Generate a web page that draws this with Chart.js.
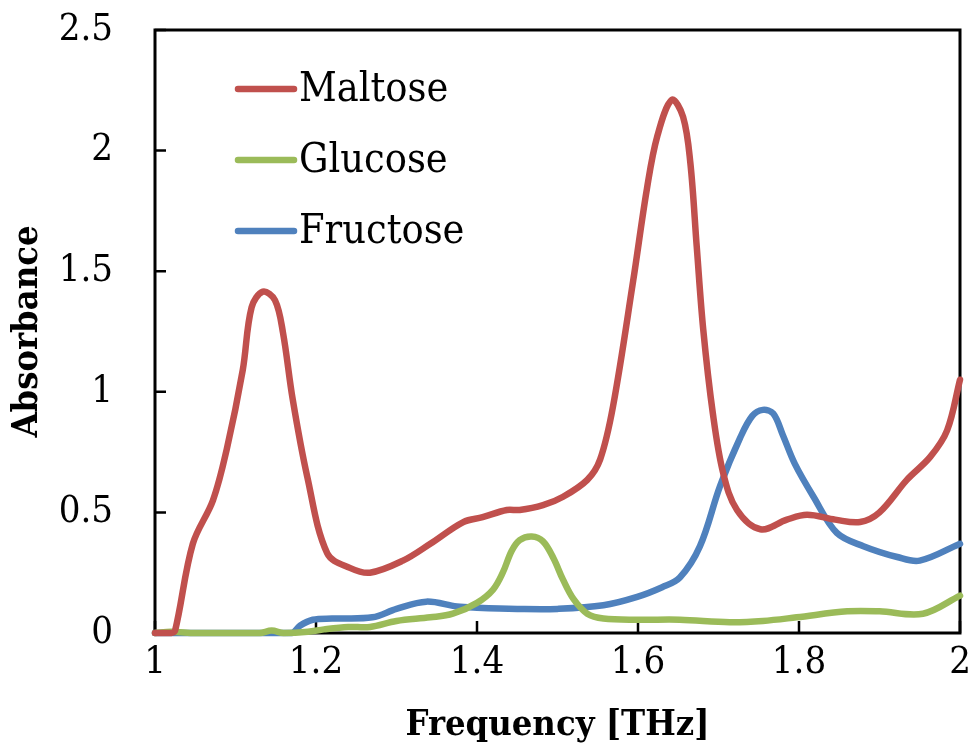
<!DOCTYPE html>
<html>
<head>
<meta charset="utf-8">
<script src="https://cdn.jsdelivr.net/npm/chart.js@4"></script>
<style>
  html, body { margin: 0; padding: 0; background: #fff; }
  #wrap { width: 975px; height: 753px; }
</style>
</head>
<body>
<div id="wrap"><canvas id="ctx"></canvas></div>
<script>
const FONT = "'DejaVu Serif Condensed', 'DejaVu Serif', serif";

const seriesNames = ["Maltose", "Glucose", "Fructose"];
const seriesColors = ["#C0504D", "#9BBB59", "#4F81BD"];

// (THz, absorbance)
const maltoseFreq = [1.00, 1.02, 1.025, 1.047, 1.072, 1.089, 1.109, 1.12, 1.134, 1.149, 1.159, 1.171, 1.189, 1.214, 1.242, 1.267, 1.308, 1.342, 1.383, 1.407, 1.437, 1.453, 1.482, 1.507, 1.537, 1.553, 1.569, 1.594, 1.611, 1.624, 1.642, 1.656, 1.665, 1.673, 1.681, 1.693, 1.706, 1.723, 1.752, 1.785, 1.81, 1.845, 1.876, 1.90, 1.934, 1.963, 1.984, 2.0];
const maltoseAbs = [0, 0, 0.01, 0.37, 0.55, 0.76, 1.09, 1.35, 1.415, 1.38, 1.245, 0.97, 0.65, 0.33, 0.27, 0.25, 0.30, 0.37, 0.46, 0.48, 0.51, 0.51, 0.53, 0.565, 0.635, 0.72, 0.94, 1.46, 1.84, 2.06, 2.21, 2.14, 1.95, 1.60, 1.26, 0.91, 0.66, 0.51, 0.43, 0.47, 0.49, 0.47, 0.46, 0.50, 0.635, 0.73, 0.84, 1.05];

const glucoseFreq = [1.0, 1.02, 1.05, 1.1, 1.13, 1.145, 1.16, 1.19, 1.21, 1.24, 1.267, 1.30, 1.342, 1.37, 1.40, 1.42, 1.432, 1.443, 1.453, 1.468, 1.482, 1.495, 1.507, 1.52, 1.537, 1.557, 1.60, 1.652, 1.714, 1.755, 1.797, 1.86, 1.90, 1.954, 2.0];
const glucoseAbs = [0, 0.005, 0, 0, 0, 0.01, 0, 0.005, 0.015, 0.025, 0.025, 0.05, 0.065, 0.08, 0.125, 0.18, 0.25, 0.34, 0.385, 0.40, 0.38, 0.31, 0.22, 0.14, 0.08, 0.06, 0.055, 0.055, 0.045, 0.05, 0.065, 0.09, 0.09, 0.08, 0.155];

const fructoseFreq = [1.0, 1.1, 1.17, 1.18, 1.196, 1.22, 1.27, 1.30, 1.337, 1.375, 1.40, 1.45, 1.50, 1.557, 1.599, 1.63, 1.652, 1.677, 1.702, 1.727, 1.742, 1.755, 1.768, 1.78, 1.795, 1.818, 1.847, 1.88, 1.922, 1.95, 2.0];
const fructoseAbs = [0, 0, 0, 0.03, 0.055, 0.06, 0.065, 0.10, 0.13, 0.11, 0.105, 0.10, 0.10, 0.115, 0.15, 0.19, 0.23, 0.36, 0.61, 0.81, 0.9, 0.925, 0.91, 0.82, 0.70, 0.565, 0.415, 0.36, 0.315, 0.30, 0.37];

const xTicks = [1, 1.2, 1.4, 1.6, 1.8, 2];
const yTicks = [0, 0.5, 1, 1.5, 2, 2.5];

function pts(xs, ys) {
  const out = [];
  for (let i = 0; i < xs.length; i++) out.push({ x: xs[i], y: ys[i] });
  return out;
}

const allData = [pts(maltoseFreq, maltoseAbs), pts(glucoseFreq, glucoseAbs), pts(fructoseFreq, fructoseAbs)];

const datasets = [];
for (let i = 0; i < seriesNames.length; i++) {
  datasets.push({
    label: seriesNames[i],
    data: allData[i],
    borderColor: seriesColors[i],
    backgroundColor: seriesColors[i],
    borderWidth: 6.5,
    pointRadius: 0,
    tension: 0.35,
    borderJoinStyle: "round",
    borderCapStyle: "round",
    clip: 6,
  });
}

// box round the plot with inward ticks
const frame = {
  id: "frame",
  beforeDatasetsDraw(chart) {
    const { ctx, chartArea: a, scales } = chart;
    ctx.save();
    ctx.strokeStyle = "#000";
    ctx.lineWidth = 3;
    ctx.strokeRect(a.left, a.top, a.right - a.left, a.bottom - a.top);
    ctx.lineWidth = 2.5;
    ctx.beginPath();
    xTicks.forEach(v => {
      const x = scales.x.getPixelForValue(v);
      ctx.moveTo(x, a.bottom);
      ctx.lineTo(x, a.bottom - 12);
    });
    yTicks.forEach(v => {
      const y = scales.y.getPixelForValue(v);
      ctx.moveTo(a.left, y);
      ctx.lineTo(a.left + 11, y);
    });
    ctx.stroke();
    ctx.restore();
  },
};

// legend sits inside the plot, upper left
const innerLegend = {
  id: "innerLegend",
  afterDraw(chart) {
    const ctx = chart.ctx;
    ctx.save();
    ctx.font = "41px " + FONT;
    ctx.textBaseline = "middle";
    ctx.textAlign = "left";
    ctx.lineCap = "round";
    ctx.lineWidth = 6.5;
    chart.data.datasets.forEach((ds, i) => {
      const y = 89 + i * 71;
      ctx.strokeStyle = ds.borderColor;
      ctx.beginPath();
      ctx.moveTo(238, y);
      ctx.lineTo(294, y);
      ctx.stroke();
      ctx.fillStyle = "#000";
      ctx.fillText(ds.label, 299, y + 1);
    });
    ctx.restore();
  },
};

new Chart(document.getElementById("ctx"), {
  type: "line",
  data: { datasets: datasets },
  plugins: [frame, innerLegend],
  options: {
    responsive: true,
    maintainAspectRatio: false,
    animation: false,
    layout: { padding: { top: 30, right: 15, left: 0, bottom: 0 } },
    plugins: { legend: { display: false }, tooltip: { enabled: false } },
    scales: {
      x: {
        type: "linear",
        min: 1,
        max: 2,
        afterBuildTicks: s => { s.ticks = xTicks.map(v => ({ value: v })); },
        afterFit: s => { s.height = 120; s.paddingLeft = 0; s.paddingRight = 0; },
        grid: { display: false, drawTicks: false },
        border: { display: false },
        ticks: {
          padding: 7,
          color: "#000",
          font: { family: FONT, size: 38 },
          maxRotation: 0,
          callback: v => String(v),
        },
        title: {
          display: true,
          text: "Frequency [THz]",
          color: "#000",
          font: { family: FONT, size: 36, weight: "bold" },
          padding: { top: 0, bottom: 6 },
        },
      },
      y: {
        min: 0,
        max: 2.5,
        afterBuildTicks: s => { s.ticks = yTicks.map(v => ({ value: v })); },
        afterFit: s => { s.width = 155; s.paddingTop = 0; s.paddingBottom = 0; },
        grid: { display: false, drawTicks: false },
        border: { display: false },
        ticks: {
          padding: 42,
          color: "#000",
          font: { family: FONT, size: 38 },
          callback: v => String(v),
        },
        title: {
          display: true,
          text: "Absorbance",
          color: "#000",
          font: { family: FONT, size: 36, weight: "bold" },
          padding: { top: 6, bottom: 0 },
        },
      },
    },
  },
});
</script>
</body>
</html>
